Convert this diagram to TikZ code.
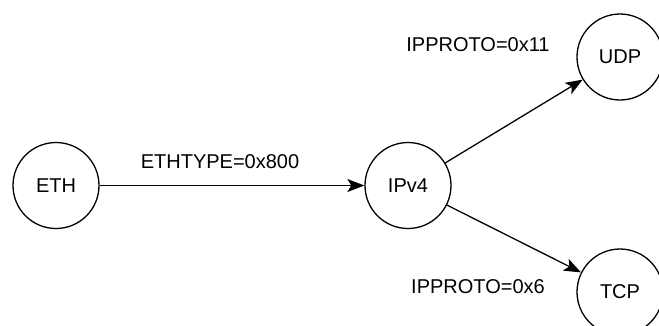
\documentclass[tikz,border=0pt]{standalone}
\usepackage{fontspec}
\setmainfont{Liberation Sans}
\usetikzlibrary{arrows.meta}
\tikzset{
  proto/.style={draw,shape=circle,line width=1.3pt,minimum size=86pt,inner sep=0pt},
  link/.style={line width=1.3pt,-{Stealth[length=17pt,width=13pt,inset=4pt]}},
  lbl/.style={inner sep=0pt}
}
\begin{document}
\begin{tikzpicture}[x=1pt,y=-1pt,font=\fontsize{20}{24}\selectfont]
	\useasboundingbox (0,0) rectangle (659,325);
	\node[proto] (ETH) at (56,185.5) {ETH};
	\node[proto] (IP) at (408,185.5) {IPv4};
	\node[proto] (UDP) at (620,57) {UDP};
	\node[proto] (TCP) at (620,292) {TCP};

	\node[lbl] (LE) at (220,162) {ETHTYPE=0x800};
	\node[lbl] (LU) at (478,45) {IPPROTO=0x11};
	\node[lbl] (LT) at (478,287) {IPPROTO=0x6};

	\draw[link] (ETH)--(IP);
	\draw[link] (IP)--(UDP);
	\draw[link] (IP)--(TCP);
\end{tikzpicture}
\end{document}
